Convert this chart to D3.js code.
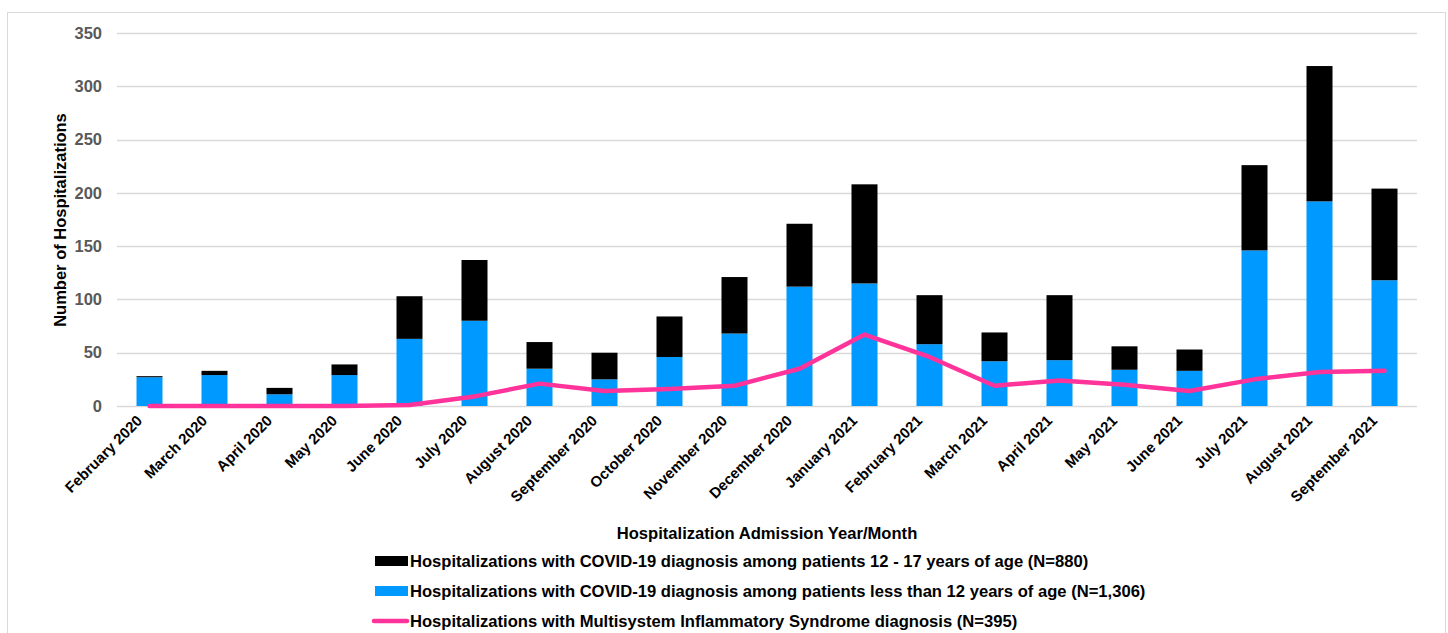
<!DOCTYPE html>
<html>
<head>
<meta charset="utf-8">
<script src="https://cdn.jsdelivr.net/npm/d3@7"></script>
<style>
  html, body { margin: 0; padding: 0; background: #fff; }
  svg { display: block; font-family: "Liberation Sans", Arial, sans-serif; }
</style>
</head>
<body>
<svg id="chart" width="1448" height="633"></svg>
<script>
const months = ["February 2020","March 2020","April 2020","May 2020","June 2020","July 2020","August 2020","September 2020","October 2020","November 2020","December 2020","January 2021","February 2021","March 2021","April 2021","May 2021","June 2021","July 2021","August 2021","September 2021"];
const under12 = [27,29,11,29,63,80,35,25,46,68,112,115,58,42,43,34,33,146,192,118];
const age12to17 = [1,4,6,10,40,57,25,25,38,53,59,93,46,27,61,22,20,80,127,86];
const misc = [0,0,0,0,1,9,21,14,16,19,35,67,46,19,24,20,14,25,32,33];
const yTicks = [0,50,100,150,200,250,300,350];
const seriesNames = [
  "Hospitalizations with COVID-19 diagnosis among patients 12 - 17 years of age (N=880)",
  "Hospitalizations with COVID-19 diagnosis among patients less than 12 years of age (N=1,306)",
  "Hospitalizations with Multisystem Inflammatory Syndrome diagnosis (N=395)"
];
const yTitle = "Number of Hospitalizations";
const xTitle = "Hospitalization Admission Year/Month";

const colors = { older: "#000000", younger: "#0099FF", line: "#FF3399" };

const svg = d3.select("#chart");

// outer frame
svg.append("rect").attr("x", 7.5).attr("y", 12.5).attr("width", 1438).attr("height", 640)
  .attr("fill", "none").attr("stroke", "#d9d9d9").attr("stroke-width", 1);

const plotL = 117, plotR = 1417, plotT = 33, plotB = 406;

const x = d3.scaleBand().domain(months).range([plotL, plotR]).paddingInner(0.6).paddingOuter(0.3);
const y = d3.scaleLinear().domain([0, 350]).range([plotB, plotT]);

// gridlines
svg.append("g").selectAll("line").data(yTicks).join("line")
  .attr("x1", plotL).attr("x2", plotR)
  .attr("y1", d => Math.round(y(d)) + 0.5).attr("y2", d => Math.round(y(d)) + 0.5)
  .attr("stroke", "#d9d9d9").attr("stroke-width", 1.3);

// y axis labels
const yAxis = d3.axisLeft(y).tickValues(yTicks).tickSize(0).tickPadding(15);
const gy = svg.append("g").attr("transform", `translate(${plotL},0)`).call(yAxis);
gy.select(".domain").remove();
gy.selectAll("text").attr("font-size", 16.5).attr("font-weight", "bold").attr("fill", "#595959")
  .attr("font-family", "Liberation Sans, Arial, sans-serif");

// stacked bars
const stackData = months.map((m, i) => ({ month: m, younger: under12[i], older: age12to17[i] }));
const stack = d3.stack().keys(["younger", "older"])(stackData);
svg.append("g").selectAll("g").data(stack).join("g")
  .attr("fill", d => colors[d.key])
  .selectAll("rect").data(d => d).join("rect")
  .attr("x", d => x(d.data.month))
  .attr("width", x.bandwidth())
  .attr("y", d => y(d[1]))
  .attr("height", d => y(d[0]) - y(d[1]));

// line
const line = d3.line().x((d, i) => x(months[i]) + x.bandwidth() / 2).y(d => y(d));
svg.append("path").datum(misc).attr("d", line)
  .attr("fill", "none").attr("stroke", colors.line).attr("stroke-width", 4.5)
  .attr("stroke-linejoin", "round").attr("stroke-linecap", "round");

// x axis labels
const xAxis = d3.axisBottom(x).tickSize(0).tickPadding(0);
const gx = svg.append("g").attr("transform", `translate(0,${plotB})`).call(xAxis);
gx.select(".domain").remove();
gx.selectAll(".tick text")
  .attr("font-size", 15).attr("font-weight", "bold").attr("fill", "#000")
  .attr("font-family", "Liberation Sans, Arial, sans-serif")
  .attr("text-anchor", "end")
  .attr("dy", "0.35em")
  .attr("y", 0)
  .attr("transform", "translate(-10,12) rotate(-45)");

// axis titles
svg.append("text").attr("transform", `translate(66,220) rotate(-90)`)
  .attr("text-anchor", "middle").attr("font-size", 16.5).attr("font-weight", "bold")
  .text(yTitle);
svg.append("text").attr("x", 767).attr("y", 539)
  .attr("text-anchor", "middle").attr("font-size", 16.6).attr("font-weight", "bold")
  .text(xTitle);

// legend
const legY = [561, 591, 621];
const lg = svg.append("g");
lg.append("rect").attr("x", 375).attr("y", legY[0] - 5).attr("width", 33).attr("height", 10).attr("fill", colors.older);
lg.append("rect").attr("x", 375).attr("y", legY[1] - 5).attr("width", 33).attr("height", 10).attr("fill", colors.younger);
lg.append("line").attr("x1", 374).attr("x2", 407).attr("y1", legY[2]).attr("y2", legY[2])
  .attr("stroke", colors.line).attr("stroke-width", 4.5).attr("stroke-linecap", "round");
lg.selectAll("text.leg").data(seriesNames).join("text").attr("class", "leg")
  .attr("x", 410).attr("y", (d, i) => legY[i]).attr("dy", "0.36em")
  .attr("font-size", 16.6).attr("font-weight", "bold").text(d => d);
</script>
</body>
</html>
